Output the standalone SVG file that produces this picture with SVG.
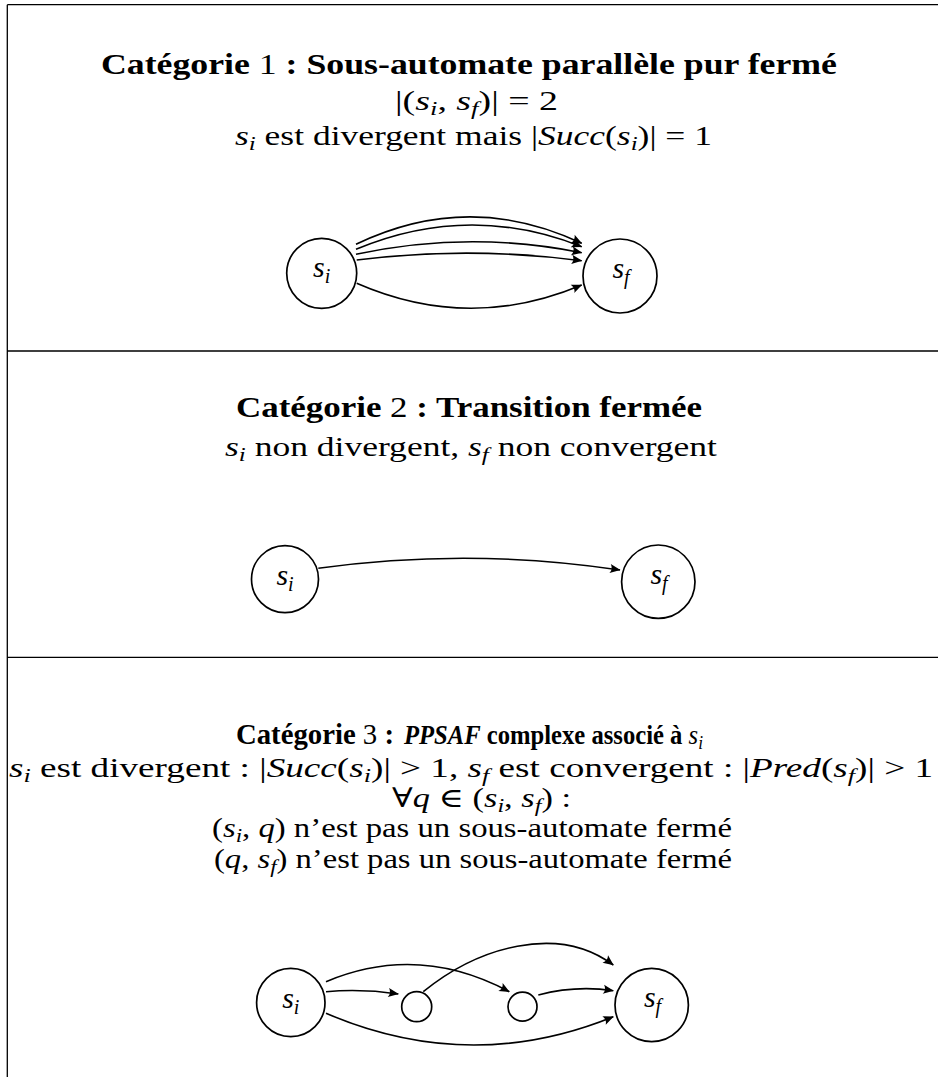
<svg xmlns="http://www.w3.org/2000/svg" width="938" height="1077" viewBox="0 0 938 1077">
<style>
.t { font-family: "Liberation Serif", "DejaVu Serif", serif; font-size: 27px; fill: #000; }
.title { font-size: 29px; }
.b { font-weight: bold; }
.i { font-style: italic; }
.sub { font-size: 19px; font-style: italic; font-weight: normal; }
.lbl { font-family: "Liberation Serif", "DejaVu Serif", serif; font-size: 30px; font-style: italic; text-anchor: middle; fill: #000; }
.lsub { font-size: 20px; }
.node circle { fill: #fff; stroke: #000; stroke-width: 1.7; }
.edge { fill: none; stroke: #000; stroke-width: 1.6; marker-end: url(#ah); }
.rule { stroke: #000; stroke-width: 1.3; fill: none; }
</style>
<defs>
<marker id="ah" viewBox="-11 -6 12 12" refX="0" refY="0" markerWidth="12" markerHeight="12" markerUnits="userSpaceOnUse" orient="auto">
<path d="M0.5,0 L-10,-4.6 Q-6.8,0 -10,4.6 Z" fill="#000"/>
</marker>
</defs>
<rect width="938" height="1077" fill="#fff"/>
<g id="table">
<path class="rule" d="M7.3,4.7 H938 M7.3,4.7 V1077 M7.3,351 H938 M7.3,657.3 H938"/>
</g>
<g id="texts">
<text class="t title" x="101" y="74" textLength="736" lengthAdjust="spacingAndGlyphs"><tspan class="b">Catégorie </tspan>1<tspan class="b"> : Sous-automate parallèle pur fermé</tspan></text>
<text class="t" x="395" y="110" textLength="163" lengthAdjust="spacingAndGlyphs">|(<tspan class="i">s</tspan><tspan class="sub" dy="5">i</tspan><tspan dy="-5">, </tspan><tspan class="i">s</tspan><tspan class="sub" dy="5">f</tspan><tspan dy="-5">)| = 2</tspan></text>
<text class="t" x="235" y="145" textLength="477" lengthAdjust="spacingAndGlyphs"><tspan class="i">s</tspan><tspan class="sub" dy="5">i</tspan><tspan dy="-5"> est divergent mais |</tspan><tspan class="i">Succ</tspan>(<tspan class="i">s</tspan><tspan class="sub" dy="5">i</tspan><tspan dy="-5">)| = 1</tspan></text>
<text class="t title" x="236" y="417" textLength="466" lengthAdjust="spacingAndGlyphs"><tspan class="b">Catégorie </tspan>2<tspan class="b"> : Transition fermée</tspan></text>
<text class="t" x="225" y="456" textLength="492" lengthAdjust="spacingAndGlyphs"><tspan class="i">s</tspan><tspan class="sub" dy="5">i</tspan><tspan dy="-5"> non divergent, </tspan><tspan class="i">s</tspan><tspan class="sub" dy="5">f</tspan><tspan dy="-5"> non convergent</tspan></text>
<text class="t title" x="236" y="744" textLength="158" lengthAdjust="spacingAndGlyphs"><tspan class="b">Catégorie </tspan>3<tspan class="b"> :</tspan></text>
<text class="t" x="404" y="744" textLength="299" lengthAdjust="spacingAndGlyphs" style="font-size:27px"><tspan class="b i">PPSAF</tspan><tspan class="b"> complexe associé à </tspan><tspan class="i">s</tspan><tspan class="sub" dy="5">i</tspan></text>
<text class="t" x="9" y="777" textLength="924" lengthAdjust="spacingAndGlyphs"><tspan class="i">s</tspan><tspan class="sub" dy="5">i</tspan><tspan dy="-5"> est divergent : |</tspan><tspan class="i">Succ</tspan>(<tspan class="i">s</tspan><tspan class="sub" dy="5">i</tspan><tspan dy="-5">)| &gt; 1, </tspan><tspan class="i">s</tspan><tspan class="sub" dy="5">f</tspan><tspan dy="-5"> est convergent : |</tspan><tspan class="i">Pred</tspan>(<tspan class="i">s</tspan><tspan class="sub" dy="5">f</tspan><tspan dy="-5">)| &gt; 1</tspan></text>
<text class="t" x="392" y="807" textLength="179" lengthAdjust="spacingAndGlyphs">∀<tspan class="i">q</tspan> ∈ (<tspan class="i">s</tspan><tspan class="sub" dy="5">i</tspan><tspan dy="-5">, </tspan><tspan class="i">s</tspan><tspan class="sub" dy="5">f</tspan><tspan dy="-5">) :</tspan></text>
<text class="t" x="212" y="837" textLength="520" lengthAdjust="spacingAndGlyphs">(<tspan class="i">s</tspan><tspan class="sub" dy="5">i</tspan><tspan dy="-5">, </tspan><tspan class="i">q</tspan>) n’est pas un sous-automate fermé</text>
<text class="t" x="214" y="868" textLength="518" lengthAdjust="spacingAndGlyphs">(<tspan class="i">q</tspan>, <tspan class="i">s</tspan><tspan class="sub" dy="5">f</tspan><tspan dy="-5">) n’est pas un sous-automate fermé</tspan></text>
</g>
<g id="connectors">
<path class="edge" d="M356,244.3 Q469,190 581.7,243.3"/>
<path class="edge" d="M356,249.3 Q469,202 581.7,246.7"/>
<path class="edge" d="M356,254.3 Q469,230 581.7,252.7"/>
<path class="edge" d="M356.7,260 Q469,246 581.7,260.7"/>
<path class="edge" d="M356.7,283.3 Q469,332.4 581.7,285"/>
<path class="edge" d="M318.3,568.3 Q469,547.4 620,570"/>
<path class="edge" d="M326,991.7 Q362,988.6 398.3,994"/>
<path class="edge" d="M326,981.7 Q418,943 509.3,991.7"/>
<path class="edge" d="M423.3,991.7 C477,948 557,923 613.3,965"/>
<path class="edge" d="M538.3,995 Q576,985 613.3,990.7"/>
<path class="edge" d="M326,1013.3 Q470,1075 613.3,1016.7"/>
</g>
<g id="c1-si" class="node"><circle cx="321.7" cy="273.3" r="35"/><text class="lbl" x="321.7" y="277">s<tspan class="lsub" dy="6">i</tspan></text></g>
<g id="c1-sf" class="node"><circle cx="620" cy="276" r="37"/><text class="lbl" x="621" y="278">s<tspan class="lsub" dy="6">f</tspan></text></g>
<g id="c2-si" class="node"><circle cx="285" cy="579.2" r="33.5"/><text class="lbl" x="285" y="585">s<tspan class="lsub" dy="6">i</tspan></text></g>
<g id="c2-sf" class="node"><circle cx="658.3" cy="581.7" r="36.7"/><text class="lbl" x="659" y="583.5">s<tspan class="lsub" dy="6">f</tspan></text></g>
<g id="c3-si" class="node"><circle cx="290.8" cy="1002.5" r="34.2"/><text class="lbl" x="290.8" y="1008">s<tspan class="lsub" dy="6">i</tspan></text></g>
<g id="c3-q1" class="node"><circle cx="416.7" cy="1006.7" r="15"/></g>
<g id="c3-q2" class="node"><circle cx="522.5" cy="1006.7" r="14.5"/></g>
<g id="c3-sf" class="node"><circle cx="651.7" cy="1005" r="36.7"/><text class="lbl" x="652.5" y="1007">s<tspan class="lsub" dy="6">f</tspan></text></g>
</svg>
